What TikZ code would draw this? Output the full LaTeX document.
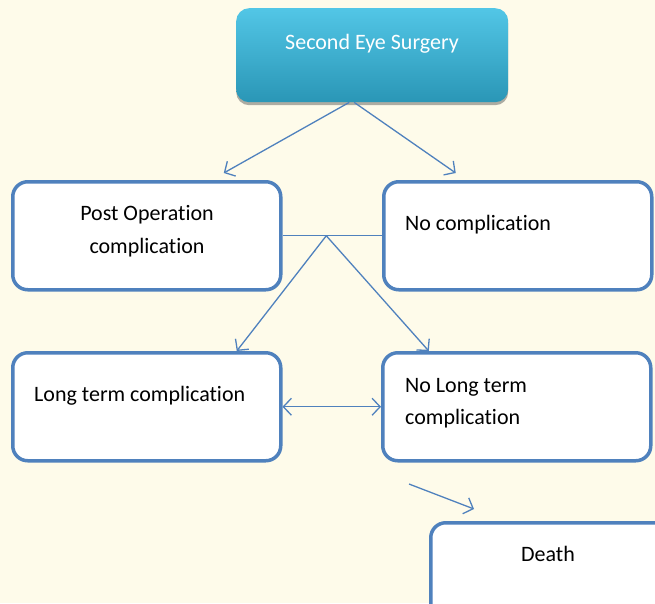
\documentclass[tikz,border=0pt]{standalone}
\usepackage{fontspec}
\setmainfont[RawFeature={-liga}]{Carlito}
\usetikzlibrary{arrows.meta,shadows,calc}
\definecolor{bg}{HTML}{FEFBEA}
\definecolor{edge}{HTML}{4F81BD}
\definecolor{topc}{HTML}{52C6E6}
\definecolor{botc}{HTML}{2A96B6}
\begin{document}
\begin{tikzpicture}[x=1pt,y=-1pt,
  box/.style={draw=edge, line width=3.5pt, fill=white, rounded corners=15pt, inner sep=0pt, anchor=north west, minimum width=268pt, minimum height=108pt},
  topbox/.style={top color=topc, bottom color=botc, draw=none, rounded corners=13pt, inner sep=0pt, anchor=north west, minimum width=272pt, minimum height=94pt, drop shadow={shadow xshift=0pt, shadow yshift=-3pt, opacity=0.45, fill=black!70}},
  lbl/.style={font=\fontsize{22}{32}\selectfont, text=black, inner sep=0pt},
  conn/.style={draw=edge, line width=1.3pt, -{Straight Barb[length=8pt,width=17pt,line width=1.3pt]}},
  conn2/.style={draw=edge, line width=1.3pt, {Straight Barb[length=8pt,width=17pt,line width=1.3pt]}-{Straight Barb[length=8pt,width=17pt,line width=1.3pt]}},
  plain/.style={draw=edge, line width=1.3pt},
]
\fill[bg] (0,0) rectangle (655,603);
\useasboundingbox (0,0) rectangle (655,603);
\clip (0,0) rectangle (655,603);

\node[topbox] (top) at (236,8) {};
\node[lbl, text=white] (ttop) at (372,44) {Second Eye Surgery};

\node[box] (post) at (11,180) {};
\node[box] (nocomp) at (382,180) {};
\node[box] (long) at (11,351) {};
\node[box] (nolong) at (381,351) {};
\node[box] (death) at (429,521) {};

\node[lbl, align=center, font=\fontsize{22}{33}\selectfont] (tpost) at (147,231) {Post Operation\\complication};
\node[lbl, anchor=west] (tnocomp) at (405,225) {No complication};
\node[lbl, anchor=west] (tlong) at (34,396) {Long term complication};
\node[lbl, align=left, anchor=west] (tnolong) at (405,403) {No Long term\\complication};
\node[lbl] (tdeath) at (548,554) {Death};

% arrows from top
\draw[conn] ($(top.south)+(-23,0)$) -- ($(post.north)+(77,-7)$);
\draw[conn] ($(top.south)+(-18,0)$) -- ($(nocomp.north)+(-62,-7)$);

% junction line
\draw[plain] (post.east) -- (nocomp.west);
\coordinate (j) at ($(post.east)!0.44!(nocomp.west)$);
\draw[conn] (j) -- ($(long.north)+(90,0)$);
\draw[conn] (j) -- ($(nolong.north)+(-88,0)$);

% double arrow
\draw[conn2] (long.east) -- (nolong.west);

% death arrow
\coordinate (d1) at (409,484);
\coordinate (d2) at (474,509);
\draw[conn] (d1) -- (d2);
\end{tikzpicture}
\end{document}
